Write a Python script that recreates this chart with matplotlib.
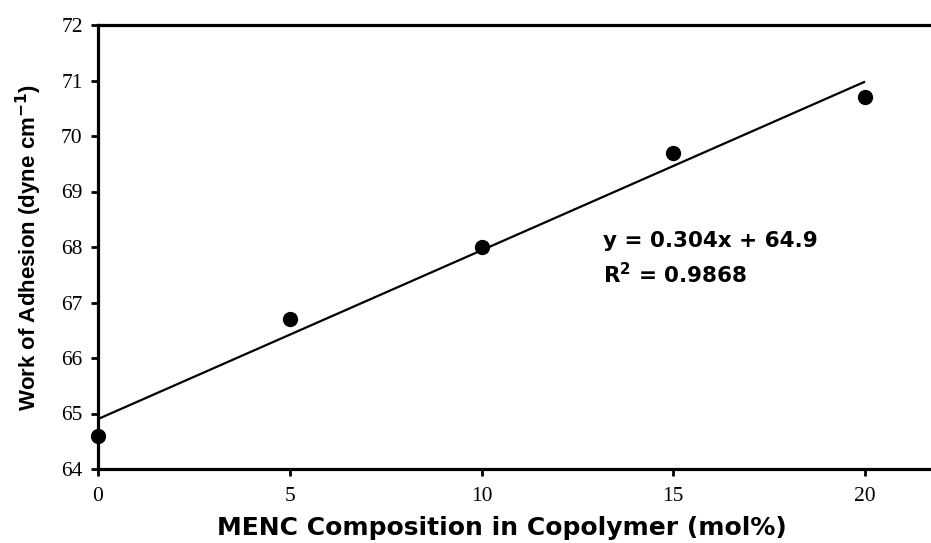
import numpy as np
import matplotlib
matplotlib.use("Agg")
import matplotlib.pyplot as plt

x_vals = [0, 5, 10, 15, 20]
y_vals = [64.6, 66.7, 68.0, 69.7, 70.7]
x_ticks = [0, 5, 10, 15, 20]
y_ticks = [64, 65, 66, 67, 68, 69, 70, 71, 72]

slope, intercept = np.polyfit(x_vals, y_vals, 1)

fig = plt.figure(figsize=(9.31, 5.43), dpi=100)
ax = fig.add_axes([98/931, 74/543, 1 - 98/931, (469 - 25)/543])

xf = np.array([x_vals[0], x_vals[-1]])
ax.plot(xf, slope * xf + intercept, color="black", lw=1.6, solid_capstyle="butt")
ax.plot(x_vals, y_vals, "o", color="black", markersize=10, clip_on=False, zorder=5)

ax.set_xlim(0, 21.72)
ax.set_ylim(64, 72)
ax.set_xticks(x_ticks)
ax.set_yticks(y_ticks)
serif = {"family": "Liberation Serif", "size": 15.5}
ax.set_xticklabels([str(t) for t in x_ticks], fontdict=serif)
ax.set_yticklabels([str(t) for t in y_ticks], fontdict=serif)
ax.tick_params(axis="x", direction="out", length=5, width=2, pad=8)
ax.tick_params(axis="y", direction="out", length=5, width=2, pad=6)

for side in ["left", "bottom", "top"]:
    ax.spines[side].set_linewidth(2.3)
ax.spines["right"].set_visible(False)

xlab = {"family": "DejaVu Sans", "weight": "bold", "size": 18}
ylab = {"family": "Liberation Sans", "weight": "bold", "size": 16}
eqf = {"family": "DejaVu Sans", "weight": "bold", "size": 15.5}
ax.set_xlabel("MENC Composition in Copolymer (mol%)", fontdict=xlab, labelpad=5)
ax.xaxis.set_label_coords((502 - 98) / 833, -0.105)
ax.set_ylabel("Work of Adhesion (dyne cm$^{\\mathbf{-1}}$)", fontdict=ylab, labelpad=12)

ax.text(13.17, 67.78, f"y = {slope:.3f}x + {intercept:.1f}\nR$^{{\\mathbf{{2}}}}$ = 0.9868",
        fontdict=eqf, va="center", ha="left", linespacing=1.55)

fig.savefig("out.png", dpi=100)
